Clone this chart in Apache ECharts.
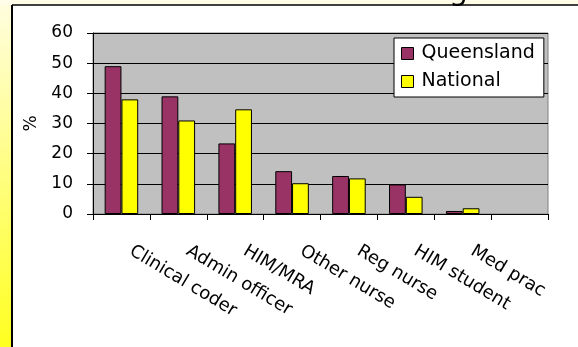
<!DOCTYPE html>
<html>
<head>
<meta charset="utf-8">
<script src="https://cdn.jsdelivr.net/npm/echarts@6/dist/echarts.min.js"></script>
<style>
  html, body { margin: 0; padding: 0; background: #fff; }
  #chart { width: 578px; height: 347px; }
</style>
</head>
<body>
<div id="chart"></div>
<script>
// staff groups (last slot is empty, as in the source chart)
var categories = ['Clinical coder', 'Admin officer', 'HIM/MRA', 'Other nurse', 'Reg nurse', 'HIM student', 'Med prac', ''];
var queensland = [49, 39, 23.4, 14.2, 12.6, 9.8, 1, null];
var national = [38, 31, 34.7, 10.2, 11.8, 5.7, 1.9, null];
var yTicks = [0, 10, 20, 30, 40, 50, 60];

var myChart = echarts.init(document.getElementById('chart'));
var font = 'DejaVu Sans';

var option = {
    animation: false,
    backgroundColor: '#ffffff',
    textStyle: { fontFamily: font, color: '#000' },
    graphic: [
        // yellow slide strips round the chart
        {
            type: 'rect', left: 0, top: 0,
            shape: { width: 12, height: 347 },
            style: {
                fill: new echarts.graphic.LinearGradient(0, 0, 0, 1, [
                    { offset: 0, color: '#fffde0' },
                    { offset: 1, color: '#ffff20' }
                ])
            }
        },
        {
            type: 'rect', left: 0, top: 0,
            shape: { width: 578, height: 5 },
            style: { fill: '#fffde8' }
        },
        // tail of the slide title, cut off above
        {
            type: 'text', x: 449, y: -23, z: 10,
            style: { text: 'g', font: '30px "DejaVu Sans"', fill: '#000' }
        },
        {
            type: 'rect', left: 13, top: 6, z: 10,
            shape: { width: 565, height: 8 },
            style: { fill: '#ffffff' }
        },
        {
            type: 'line', z: 11,
            shape: { x1: 12, y1: 5, x2: 12, y2: 347 },
            style: { stroke: '#000', lineWidth: 2 }
        },
        {
            type: 'line', z: 11,
            shape: { x1: 12, y1: 5, x2: 578, y2: 5 },
            style: { stroke: '#000', lineWidth: 1.5 }
        }
    ],
    legend: {
        data: ['Queensland', 'National'],
        orient: 'vertical',
        left: 394,
        top: 38,
        width: 150,
        padding: [6, 9, 6, 7],
        itemWidth: 12,
        itemHeight: 12,
        itemGap: 9,
        icon: 'rect',
        backgroundColor: '#ffffff',
        borderColor: '#000',
        borderWidth: 1,
        textStyle: { fontFamily: font, fontSize: 19, color: '#000', padding: [0, 0, 0, 3] },
        itemStyle: { borderColor: '#000', borderWidth: 1 }
    },
    grid: {
        left: 93,
        top: 33,
        width: 455,
        height: 181,
        show: true,
        backgroundColor: '#c0c0c0',
        borderColor: '#808080',
        borderWidth: 1
    },
    xAxis: {
        type: 'category',
        data: categories,
        axisLine: { lineStyle: { color: '#000', width: 1 } },
        axisTick: { show: true, interval: 0, length: 6, lineStyle: { color: '#000' } },
        axisLabel: {
            interval: 0,
            rotate: -31,
            margin: 30,
            padding: [0, 0, 0, 11],
            fontFamily: font,
            fontSize: 18,
            color: '#000'
        }
    },
    yAxis: {
        type: 'value',
        min: yTicks[0],
        max: yTicks[yTicks.length - 1],
        interval: 10,
        name: '%',
        nameLocation: 'middle',
        nameRotate: 90,
        nameGap: 52,
        nameTextStyle: { fontFamily: font, fontSize: 17, color: '#000' },
        axisLine: { show: true, lineStyle: { color: '#000', width: 1 } },
        axisTick: { show: true, length: 6, lineStyle: { color: '#000' } },
        axisLabel: { margin: 20, fontFamily: font, fontSize: 17, color: '#000' },
        splitLine: { show: true, lineStyle: { color: '#000', width: 1 } }
    },
    series: [
        {
            name: 'Queensland',
            type: 'bar',
            data: queensland,
            barGap: '0%',
            barCategoryGap: '41%',
            itemStyle: { color: '#993366', borderColor: '#000', borderWidth: 1 }
        },
        {
            name: 'National',
            type: 'bar',
            data: national,
            itemStyle: { color: '#ffff00', borderColor: '#000', borderWidth: 1 }
        }
    ]
};

myChart.setOption(option, true);
window.addEventListener("resize", function () {
    myChart.resize();
});
</script>
</body>
</html>
